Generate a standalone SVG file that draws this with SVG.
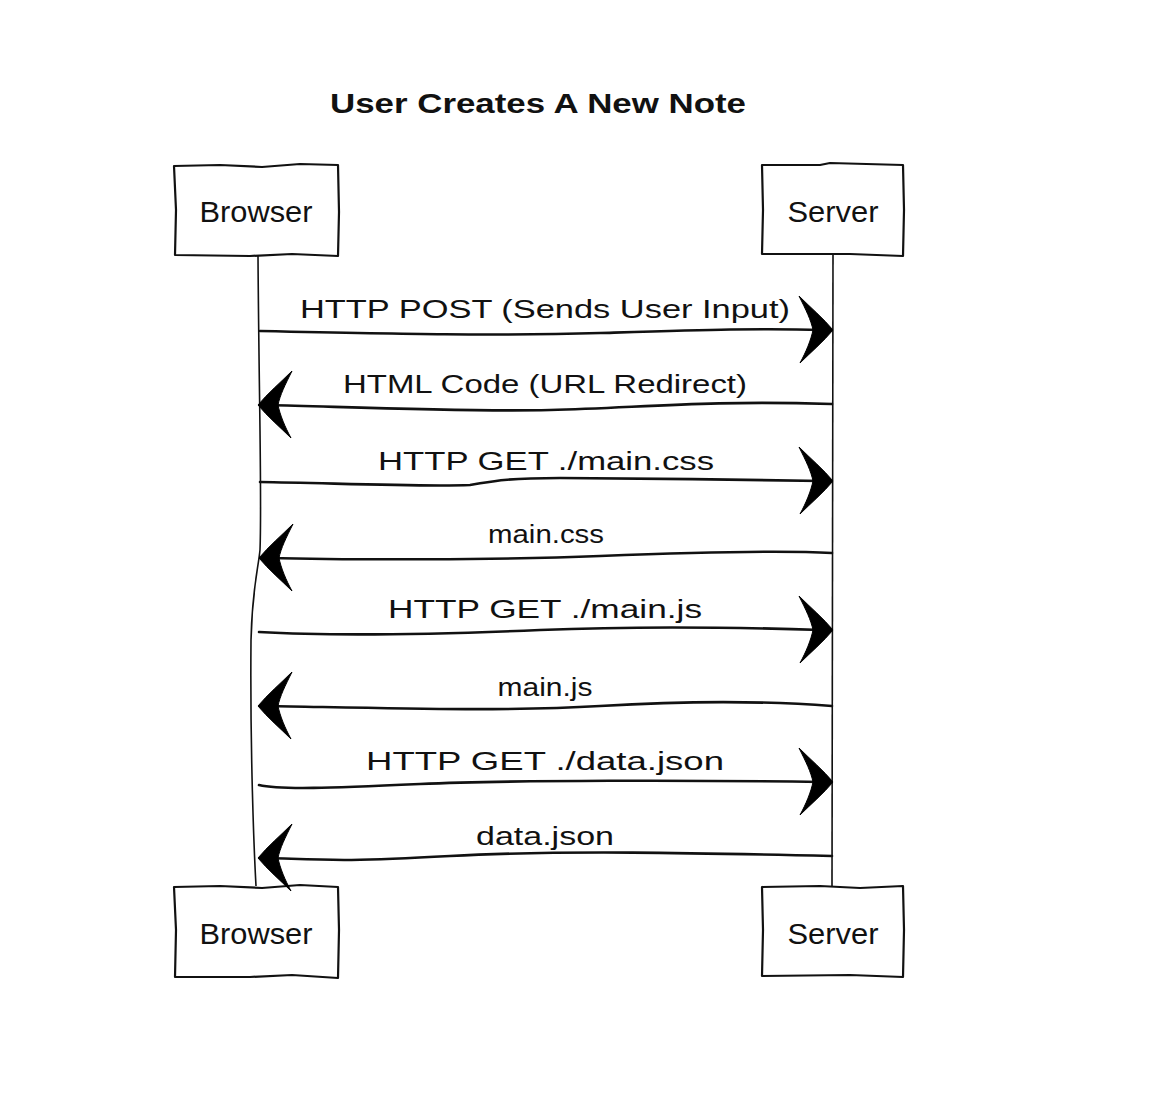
<svg xmlns="http://www.w3.org/2000/svg" xmlns:xlink="http://www.w3.org/1999/xlink" width="1156" height="1094" viewBox="0 0 1156 1094">
<style>
.box{fill:#fff;stroke:#111;stroke-width:2.2;stroke-linejoin:round}
.life{fill:none;stroke:#111;stroke-width:1.6}
.msg{fill:none;stroke:#111;stroke-width:2.6;stroke-linecap:round}
.head{fill:#000;stroke:#000;stroke-width:1}
.lbl{font-family:"Liberation Sans","DejaVu Sans",sans-serif;font-size:26px;fill:#111}
.nm{font-family:"Liberation Sans","DejaVu Sans",sans-serif;font-size:29px;fill:#111}
.title{font-family:"Liberation Sans","DejaVu Sans",sans-serif;font-size:28px;font-weight:bold;fill:#111}
</style>
<defs>
<path id="ah" class="head" d="M0,0 C-10,-12 -22,-22 -34,-34 C-27,-20 -22,-10 -20,0 C-22,10 -27,22 -33,33 C-22,22 -10,12 0,0 Z"/>
</defs>
<rect width="1156" height="1094" fill="#fff"/>
<text class="title" x="538" y="113" text-anchor="middle" textLength="416" lengthAdjust="spacingAndGlyphs">User Creates A New Note</text>

<g id="lifelines">
<path class="life" d="M258,256 C259,400 262,500 260,550 C258,570 252,590 251,640 C250,750 254,850 256,886"/>
<path class="life" d="M833,255 C833,450 832,650 832,886"/>
</g>

<g id="browser-top">
<path class="box" d="M174,166 L220,165 L262,167 L300,164 L338,165 L339,212 L338,256 L292,254 L250,256 L175,255 L176,210 Z"/>
<text class="nm" x="256" y="222" text-anchor="middle" textLength="113" lengthAdjust="spacingAndGlyphs">Browser</text>
</g>
<g id="server-top">
<path class="box" d="M762,165 L820,165 L830,163 L903,165 L904,210 L903,256 L850,254 L762,254 L763,210 Z"/>
<text class="nm" x="833" y="222" text-anchor="middle" textLength="91" lengthAdjust="spacingAndGlyphs">Server</text>
</g>
<g id="browser-bottom">
<path class="box" d="M174,887 L220,886 L262,888 L300,885 L338,887 L339,930 L338,978 L292,975 L250,977 L175,977 L176,930 Z"/>
<text class="nm" x="256" y="944" text-anchor="middle" textLength="113" lengthAdjust="spacingAndGlyphs">Browser</text>
</g>
<g id="server-bottom">
<path class="box" d="M762,887 L820,886 L860,888 L903,886 L904,930 L903,977 L850,975 L762,976 L763,930 Z"/>
<text class="nm" x="833" y="944" text-anchor="middle" textLength="91" lengthAdjust="spacingAndGlyphs">Server</text>
</g>

<g id="connectors">
<path class="msg" d="M260,331 C400,334 500,336 600,333 S760,328 822,330"/>
<use href="#ah" xlink:href="#ah" transform="translate(833,330)"/>
<text class="lbl" x="545" y="318" text-anchor="middle" textLength="490" lengthAdjust="spacingAndGlyphs">HTTP POST (Sends User Input)</text>

<path class="msg" d="M832,404 C700,400 640,408 550,410 S350,407 268,405"/>
<use href="#ah" xlink:href="#ah" transform="translate(258,405) scale(-1,1)"/>
<text class="lbl" x="545" y="393" text-anchor="middle" textLength="404" lengthAdjust="spacingAndGlyphs">HTML Code (URL Redirect)</text>

<path class="msg" d="M260,482 C330,483 420,487 470,485 C490,482 500,478 560,478 S760,480 822,481"/>
<use href="#ah" xlink:href="#ah" transform="translate(833,481)"/>
<text class="lbl" x="546" y="470" text-anchor="middle" textLength="336" lengthAdjust="spacingAndGlyphs">HTTP GET ./main.css</text>

<path class="msg" d="M832,553 C780,550 700,552 600,556 S350,560 268,558"/>
<use href="#ah" xlink:href="#ah" transform="translate(259,558) scale(-1,1)"/>
<text class="lbl" x="546" y="543" text-anchor="middle" textLength="116" lengthAdjust="spacingAndGlyphs">main.css</text>

<path class="msg" d="M259,632 C330,636 420,635 540,630 S760,628 822,630"/>
<use href="#ah" xlink:href="#ah" transform="translate(833,630)"/>
<text class="lbl" x="545" y="618" text-anchor="middle" textLength="314" lengthAdjust="spacingAndGlyphs">HTTP GET ./main.js</text>

<path class="msg" d="M832,706 C780,702 700,700 600,706 S380,708 268,706"/>
<use href="#ah" xlink:href="#ah" transform="translate(258,706) scale(-1,1)"/>
<text class="lbl" x="545" y="696" text-anchor="middle" textLength="95" lengthAdjust="spacingAndGlyphs">main.js</text>

<path class="msg" d="M259,785 C280,790 330,788 420,784 S700,780 822,782"/>
<use href="#ah" xlink:href="#ah" transform="translate(833,782)"/>
<text class="lbl" x="545" y="770" text-anchor="middle" textLength="358" lengthAdjust="spacingAndGlyphs">HTTP GET ./data.json</text>

<path class="msg" d="M832,856 C700,853 560,850 450,856 S330,860 268,858"/>
<use href="#ah" xlink:href="#ah" transform="translate(258,858) scale(-1,1)"/>
<text class="lbl" x="545" y="845" text-anchor="middle" textLength="138" lengthAdjust="spacingAndGlyphs">data.json</text>
</g>
</svg>
